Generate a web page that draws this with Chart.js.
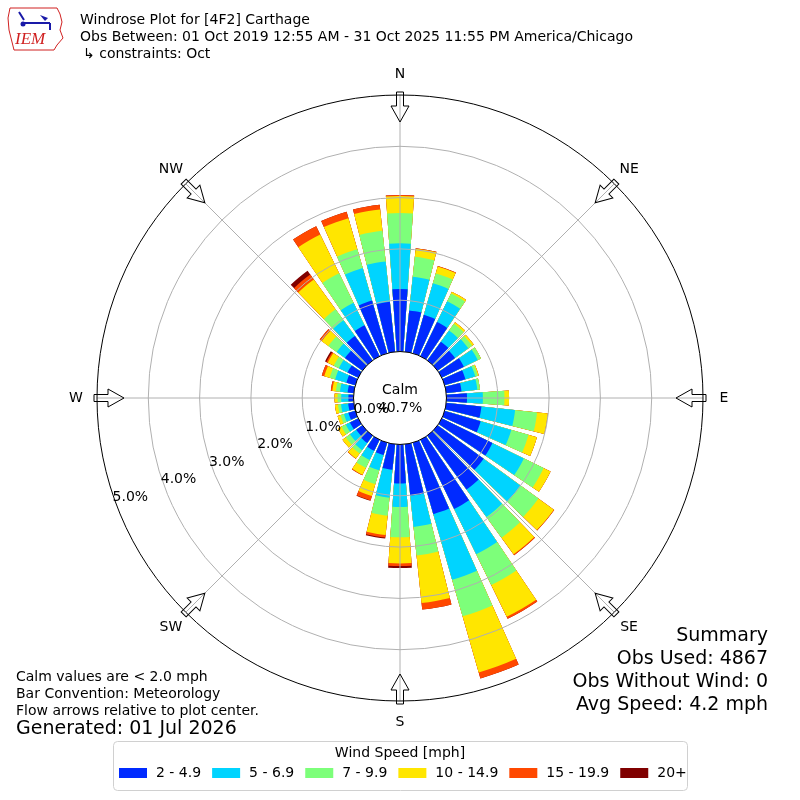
<!DOCTYPE html>
<html lang="en">
<head>
<meta charset="UTF-8">
<title>Windrose Plot for [4F2] Carthage</title>
<script src="https://cdn.jsdelivr.net/npm/chart.js"></script>
<style>
  html, body { margin: 0; padding: 0; background: #fff; }
</style>
</head>
<body>
<canvas id="roseChart" width="800" height="800"></canvas>
<script>
// bar directions (deg, where the wind blows from)
const directions = [0, 10, 20, 30, 40, 50, 60, 70, 80, 90, 100, 110, 120, 130, 140, 150, 160, 170,
  180, 190, 200, 210, 220, 230, 240, 250, 260, 270, 280, 290, 300, 310, 320, 330, 340, 350];
const speedBins = ['2 - 4.9', '5 - 6.9', '7 - 9.9', '10 - 14.9', '15 - 19.9', '20+'];
const binColors = ['#002aff', '#00d4ff', '#7dff7a', '#ffe600', '#ff4800', '#800000'];

// percent of observations per direction, one array per speed bin
const pct2to5 = [1.22, 0.81, 0.78, 0.74, 0.45, 0.42, 0.48, 0.42, 0.30, 0.40, 0.69, 0.73, 1.10, 1.11, 1.30, 1.50, 1.45, 1.01,
  0.76, 0.50, 0.25, 0.24, 0.18, 0.15, 0.18, 0.14, 0.11, 0.10, 0.12, 0.18, 0.23, 0.42, 0.59, 0.67, 1.07, 0.98];
const pct5to7 = [0.89, 0.66, 0.64, 0.45, 0.27, 0.32, 0.30, 0.20, 0.31, 0.31, 0.66, 0.62, 0.68, 0.89, 0.66, 0.98, 1.33, 0.61,
  0.46, 0.55, 0.31, 0.20, 0.17, 0.15, 0.09, 0.09, 0.14, 0.14, 0.15, 0.23, 0.19, 0.20, 0.38, 0.49, 0.66, 0.79];
const pct7to10 = [0.59, 0.39, 0.20, 0.17, 0.16, 0.09, 0.07, 0.05, 0.05, 0.42, 0.43, 0.35, 0.43, 0.43, 0.50, 0.67, 0.74, 0.56,
  0.59, 0.35, 0.28, 0.17, 0.08, 0.10, 0.09, 0.07, 0.06, 0.07, 0.08, 0.11, 0.11, 0.20, 0.26, 0.64, 0.38, 0.60];
const pct10to15 = [0.33, 0.16, 0.14, 0.04, 0.04, 0.04, 0.00, 0.02, 0.00, 0.09, 0.21, 0.17, 0.15, 0.37, 0.40, 0.69, 1.14, 0.93,
  0.51, 0.38, 0.24, 0.15, 0.12, 0.08, 0.08, 0.06, 0.06, 0.06, 0.07, 0.11, 0.13, 0.16, 0.72, 0.84, 0.63, 0.42];
const pct15to20 = [0.02, 0.01, 0.01, 0.00, 0.00, 0.00, 0.00, 0.00, 0.00, 0.00, 0.00, 0.00, 0.00, 0.01, 0.02, 0.04, 0.12, 0.13,
  0.05, 0.05, 0.09, 0.01, 0.01, 0.00, 0.00, 0.00, 0.00, 0.00, 0.03, 0.05, 0.03, 0.05, 0.12, 0.18, 0.13, 0.09];
const pct20up = [0, 0, 0, 0, 0, 0, 0, 0, 0, 0, 0, 0, 0, 0, 0, 0, 0, 0,
  0.04, 0.02, 0.01, 0, 0, 0, 0, 0, 0, 0, 0, 0, 0.03, 0, 0.09, 0, 0, 0];

const ringTicks = [0, 1, 2, 3, 4, 5];
const compassLabels = ['N', 'NE', 'E', 'SE', 'S', 'SW', 'W', 'NW'];
const calmPct = 40.7;
const titleLines = [
  'Windrose Plot for [4F2] Carthage',
  'Obs Between: 01 Oct 2019 12:55 AM - 31 Oct 2025 11:55 PM America/Chicago',
  '\u21b3 constraints: Oct'
];
const noteLines = ['Calm values are < 2.0 mph', 'Bar Convention: Meteorology', 'Flow arrows relative to plot center.'];
const generatedText = 'Generated: 01 Jul 2026';
const summaryLines = ['Summary', 'Obs Used: 4867', 'Obs Without Wind: 0', 'Avg Speed: 4.2 mph'];

const rMin = -0.906;   // value at the very center, so 0% sits on the calm circle
const barDeg = 8;      // each bar covers 8 of its 10 degree sector
const FONT = '"DejaVu Sans", sans-serif';

// stack the bins: each dataset is drawn from the center out to its running total
const running = directions.map(() => 0);
const binSeries = [pct2to5, pct5to7, pct7to10, pct10to15, pct15to20, pct20up];
const datasets = binSeries.map((series, k) => {
  const data = [];
  series.forEach((v, i) => {
    running[i] += v;
    data.push(+running[i].toFixed(3));
    data.push(rMin); // empty gap slice between bars
  });
  return {
    label: speedBins[k],
    data: data,
    backgroundColor: binColors[k],
    borderWidth: 0,
    angle: (c) => (c.dataIndex % 2 === 0 ? barDeg : 10 - barDeg)
  };
});
const labels = [];
directions.forEach(d => { labels.push(d + '\u00b0'); labels.push(''); });

function polar(cx, cy, r, deg) {
  const a = deg * Math.PI / 180;
  return [cx + r * Math.sin(a), cy - r * Math.cos(a)];
}

const roseDecor = {
  id: 'roseDecor',
  afterDatasetsDraw(chart) {
    const ctx = chart.ctx;
    const sc = chart.scales.r;
    const cx = sc.xCenter, cy = sc.yCenter;
    const r0 = sc.getDistanceFromCenterForValue(0);
    const rOut = sc.getDistanceFromCenterForValue(sc.max);
    ctx.save();
    ctx.fillStyle = '#fff';
    ctx.beginPath();
    ctx.arc(cx, cy, r0, 0, Math.PI * 2);
    ctx.fill();
    ctx.strokeStyle = '#b0b0b0';
    ctx.lineWidth = 1;
    compassLabels.forEach((lab, k) => {
      const p1 = polar(cx, cy, r0, k * 45);
      const p2 = polar(cx, cy, rOut, k * 45);
      ctx.beginPath();
      ctx.moveTo(p1[0], p1[1]);
      ctx.lineTo(p2[0], p2[1]);
      ctx.stroke();
    });
    ctx.restore();
  },
  afterDraw(chart) {
    const ctx = chart.ctx;
    const sc = chart.scales.r;
    const cx = sc.xCenter, cy = sc.yCenter;
    const rOut = sc.getDistanceFromCenterForValue(sc.max);
    ctx.save();

    // compass arrows + labels
    ctx.strokeStyle = '#000';
    ctx.lineWidth = 1;
    ctx.fillStyle = '#000';
    ctx.font = '14px ' + FONT;
    ctx.textAlign = 'center';
    ctx.textBaseline = 'middle';
    compassLabels.forEach((lab, k) => {
      const deg = k * 45;
      ctx.save();
      ctx.translate(cx, cy);
      ctx.rotate(deg * Math.PI / 180);
      const top = -rOut - 3;
      ctx.beginPath();
      ctx.moveTo(-3.5, top);
      ctx.lineTo(-3.5, top + 14);
      ctx.lineTo(-9, top + 14);
      ctx.lineTo(0, top + 30);
      ctx.lineTo(9, top + 14);
      ctx.lineTo(3.5, top + 14);
      ctx.lineTo(3.5, top);
      ctx.closePath();
      ctx.stroke();
      ctx.restore();
      const p = polar(cx, cy, rOut + 21, deg);
      ctx.fillText(lab, p[0], p[1]);
    });

    // ring labels
    ringTicks.forEach(v => {
      const p = polar(cx, cy, sc.getDistanceFromCenterForValue(v) - 16, 250);
      ctx.fillText(v.toFixed(1) + '%', p[0], p[1] + 1);
    });

    // calm
    ctx.fillText('Calm', cx, cy - 8);
    ctx.fillText(calmPct.toFixed(1) + '%', cx, cy + 10);

    // title block
    ctx.textAlign = 'left';
    ctx.fillText(titleLines[0], 80, 20);
    ctx.fillText(titleLines[1], 80, 37);
    ctx.fillText(titleLines[2], 83, 54);

    // notes bottom left
    noteLines.forEach((t, i) => ctx.fillText(t, 16, 677 + i * 17));
    ctx.font = '19px ' + FONT;
    ctx.fillText(generatedText, 16, 729);

    // summary bottom right
    ctx.textAlign = 'right';
    summaryLines.forEach((t, i) => ctx.fillText(t, 768, 636 + i * 23));

    // legend
    ctx.strokeStyle = '#d0d0d0';
    ctx.beginPath();
    ctx.roundRect(113.5, 741.5, 574, 49, 4);
    ctx.stroke();
    ctx.font = '14px ' + FONT;
    ctx.textAlign = 'center';
    ctx.fillStyle = '#000';
    ctx.fillText('Wind Speed [mph]', 400, 753);
    ctx.textAlign = 'left';
    let x = 119;
    speedBins.forEach((lab, k) => {
      ctx.fillStyle = binColors[k];
      ctx.fillRect(x, 768, 28, 10);
      ctx.fillStyle = '#000';
      ctx.fillText(lab, x + 37, 773);
      x += 37 + ctx.measureText(lab).width + 11;
    });

    // IEM logo
    ctx.strokeStyle = '#d02020';
    ctx.lineWidth = 1;
    ctx.beginPath();
    ctx.moveTo(10, 8); ctx.lineTo(57, 8); ctx.lineTo(60, 14); ctx.lineTo(62, 22);
    ctx.lineTo(60, 30); ctx.lineTo(63, 38); ctx.lineTo(57, 45); ctx.lineTo(54, 50);
    ctx.lineTo(14, 50); ctx.lineTo(12, 42); ctx.lineTo(9, 30); ctx.lineTo(8, 18);
    ctx.closePath();
    ctx.stroke();
    ctx.strokeStyle = '#1a1aa8';
    ctx.fillStyle = '#1a1aa8';
    ctx.lineWidth = 2;
    ctx.beginPath();
    ctx.moveTo(24, 23); ctx.lineTo(50, 23);
    ctx.moveTo(19, 12); ctx.lineTo(24, 20);
    ctx.moveTo(50, 23); ctx.lineTo(50, 30);
    ctx.stroke();
    ctx.beginPath();
    ctx.moveTo(40, 15); ctx.lineTo(48, 18); ctx.lineTo(45, 21); ctx.closePath();
    ctx.fill();
    ctx.beginPath();
    ctx.arc(23, 24, 2.5, 0, Math.PI * 2);
    ctx.fill();
    ctx.fillStyle = '#d02020';
    ctx.font = 'italic 17px "Liberation Serif", serif';
    ctx.textAlign = 'left';
    ctx.fillText('IEM', 15, 40);

    ctx.restore();
  }
};

new Chart(document.getElementById('roseChart'), {
  type: 'polarArea',
  data: { labels: labels, datasets: datasets },
  options: {
    responsive: false,
    animation: false,
    events: [],
    layout: { padding: { left: 97, right: 97, top: 95, bottom: 99 } },
    plugins: {
      legend: { display: false },
      tooltip: { enabled: false }
    },
    scales: {
      r: {
        min: rMin,
        max: 5,
        startAngle: -barDeg / 2,
        ticks: { display: false, stepSize: 1 },
        pointLabels: { display: false },
        angleLines: { display: false },
        grid: {
          z: 1,
          circular: true,
          color: (c) => {
            const v = c.tick ? c.tick.value : 0;
            if (v < 0) return 'rgba(0,0,0,0)';
            return (v === 0 || v === 5) ? '#000' : '#b0b0b0';
          },
          lineWidth: 1
        }
      }
    }
  },
  plugins: [roseDecor]
});
</script>
</body>
</html>
